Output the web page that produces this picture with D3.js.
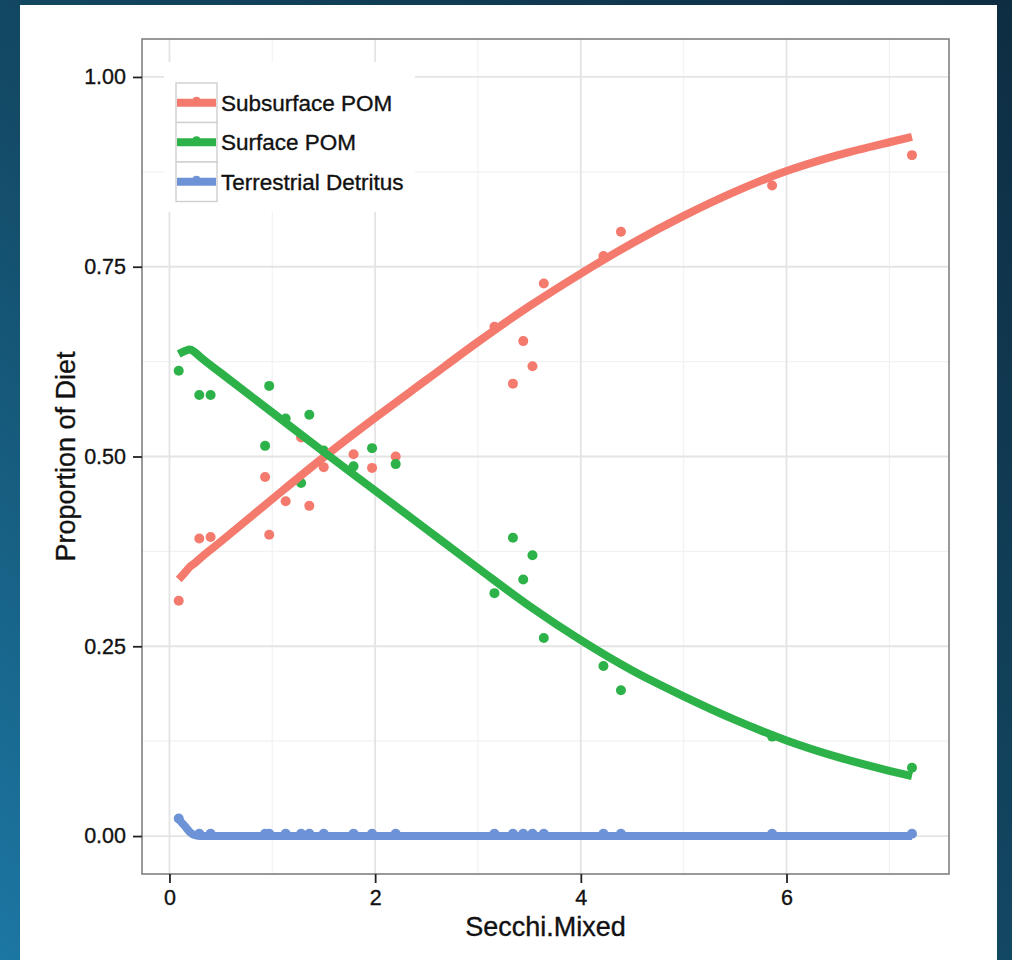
<!DOCTYPE html>
<html>
<head>
<meta charset="utf-8">
<script src="https://cdn.jsdelivr.net/npm/d3@7/dist/d3.min.js"></script>
<style>
  html, body { margin: 0; padding: 0; background: #113a52; }
  svg { display: block; }
  text { font-family: "Liberation Sans", Arial, Helvetica, sans-serif; stroke: #111; stroke-width: 0.35px; }
</style>
</head>
<body>
<svg id="chart" width="1012" height="960"></svg>
<script>
// ---- Data ----
const seriesNames = ["Subsurface POM", "Surface POM", "Terrestrial Detritus"];
const seriesColors = ["#F47A6E", "#2DB24A", "#6D93D6"];

// Observed samples (Secchi.Mixed)
const secchi = [0.09, 0.29, 0.40, 0.93, 0.97, 1.13, 1.28, 1.36, 1.50, 1.79, 1.97, 2.20,
                3.16, 3.34, 3.44, 3.53, 3.64, 4.22, 4.39, 5.86, 7.22];
const subsurfacePOM = [0.310, 0.392, 0.394, 0.473, 0.397, 0.441, 0.525, 0.435, 0.486, 0.503, 0.485, 0.500,
                       0.671, 0.596, 0.652, 0.619, 0.728, 0.764, 0.796, 0.857, 0.897];
const surfacePOM = [0.613, 0.581, 0.581, 0.514, 0.593, 0.550, 0.465, 0.555, 0.508, 0.487, 0.511, 0.490,
                    0.320, 0.393, 0.338, 0.370, 0.261, 0.224, 0.192, 0.131, 0.090];
const terrestrialDetritus = [0.023, 0.003, 0.003, 0.003, 0.003, 0.003, 0.003, 0.003, 0.003, 0.003, 0.003, 0.003,
                             0.003, 0.003, 0.003, 0.003, 0.003, 0.003, 0.003, 0.003, 0.003];

// Fitted curves
const fitX = [0.09, 0.15, 0.2, 0.25, 0.3, 0.5, 1, 1.5, 2, 2.5, 3, 3.5, 4, 4.5, 5, 5.5, 6, 6.5, 7, 7.22];
const fitSubsurface = [0.338, 0.347, 0.355, 0.360, 0.366, 0.388, 0.444, 0.499, 0.551, 0.601, 0.651, 0.698,
                       0.741, 0.781, 0.817, 0.849, 0.876, 0.897, 0.914, 0.921];
const fitSurface = [0.635, 0.639, 0.641, 0.637, 0.631, 0.610, 0.558, 0.506, 0.455, 0.404, 0.353, 0.303,
                    0.258, 0.218, 0.184, 0.153, 0.126, 0.104, 0.086, 0.079];
const fitTerrestrial = [0.022, 0.013, 0.005, 0.001, 0, 0, 0, 0, 0, 0, 0, 0, 0, 0, 0, 0, 0, 0, 0, 0];

const xTicks = [0, 2, 4, 6];
const xMinor = [1, 3, 5, 7];
const yTicks = [0, 0.25, 0.5, 0.75, 1];
const yMinor = [0.125, 0.375, 0.625, 0.875];
const xTitle = "Secchi.Mixed";
const yTitle = "Proportion of Diet";

// ---- Build ----
const obs = [subsurfacePOM, surfacePOM, terrestrialDetritus];
const fits = [fitSubsurface, fitSurface, fitTerrestrial];

const svg = d3.select("#chart");
const defs = svg.append("defs");
const grad = defs.append("linearGradient").attr("id", "bg")
  .attr("x1", "1").attr("y1", "0").attr("x2", "0").attr("y2", "1");
grad.append("stop").attr("offset", "0").attr("stop-color", "#0e2d42");
grad.append("stop").attr("offset", "0.55").attr("stop-color", "#134a66");
grad.append("stop").attr("offset", "1").attr("stop-color", "#1c77a3");
svg.append("rect").attr("width", 1012).attr("height", 960).attr("fill", "url(#bg)");
svg.append("rect").attr("x", 20).attr("y", 5).attr("width", 977).attr("height", 955).attr("fill", "#ffffff");

const P = { left: 142, right: 949, top: 39, bottom: 874 };
const x = d3.scaleLinear().domain([-0.267, 7.58]).range([P.left, P.right]);
const y = d3.scaleLinear().domain([-0.05, 1.05]).range([P.bottom, P.top]);

const grid = svg.append("g");
grid.selectAll(".xmin").data(xMinor).join("line")
  .attr("x1", d => x(d)).attr("x2", d => x(d)).attr("y1", P.top).attr("y2", P.bottom)
  .attr("stroke", "#f2f2f2").attr("stroke-width", 1.2);
grid.selectAll(".ymin").data(yMinor).join("line")
  .attr("y1", d => y(d)).attr("y2", d => y(d)).attr("x1", P.left).attr("x2", P.right)
  .attr("stroke", "#f2f2f2").attr("stroke-width", 1.2);
grid.selectAll(".xmaj").data(xTicks).join("line")
  .attr("x1", d => x(d)).attr("x2", d => x(d)).attr("y1", P.top).attr("y2", P.bottom)
  .attr("stroke", "#e4e4e4").attr("stroke-width", 1.8);
grid.selectAll(".ymaj").data(yTicks).join("line")
  .attr("y1", d => y(d)).attr("y2", d => y(d)).attr("x1", P.left).attr("x2", P.right)
  .attr("stroke", "#e4e4e4").attr("stroke-width", 1.8);

// Points
const plot = svg.append("g");
obs.forEach((vals, i) => {
  plot.append("g").selectAll("circle").data(secchi.map((s, j) => [s, vals[j]])).join("circle")
    .attr("cx", d => x(d[0])).attr("cy", d => y(d[1])).attr("r", 5)
    .attr("fill", seriesColors[i]);
});
// Fitted lines
const line = d3.line().x(d => x(d[0])).y(d => y(d[1])).curve(d3.curveMonotoneX);
fits.forEach((vals, i) => {
  plot.append("path").datum(fitX.map((s, j) => [s, vals[j]]))
    .attr("d", line).attr("fill", "none").attr("stroke", seriesColors[i])
    .attr("stroke-width", 8).attr("stroke-linecap", "butt").attr("stroke-linejoin", "round");
});

// Legend
const lg = svg.append("g");
lg.append("rect").attr("x", 164).attr("y", 62).attr("width", 251).attr("height", 150).attr("fill", "#ffffff");
const keyH = 39.5, keyX = 176, keyW = 41, keyY0 = 83;
seriesNames.forEach((name, i) => {
  const ky = keyY0 + i * keyH;
  lg.append("rect").attr("x", keyX).attr("y", ky).attr("width", keyW).attr("height", keyH)
    .attr("fill", "#ffffff").attr("stroke", "#cfcfcf").attr("stroke-width", 1.4);
  lg.append("circle").attr("cx", keyX + keyW / 2).attr("cy", ky + keyH / 2 - 2).attr("r", 4)
    .attr("fill", seriesColors[i]);
  lg.append("line").attr("x1", keyX + 1).attr("x2", keyX + keyW - 1)
    .attr("y1", ky + keyH / 2).attr("y2", ky + keyH / 2)
    .attr("stroke", seriesColors[i]).attr("stroke-width", 8);
  lg.append("text").attr("x", 221).attr("y", ky + keyH / 2).attr("dy", "0.36em")
    .attr("font-size", 22.5).attr("fill", "#111").text(name);
});

// Panel border
svg.append("rect").attr("x", P.left).attr("y", P.top)
  .attr("width", P.right - P.left).attr("height", P.bottom - P.top)
  .attr("fill", "none").attr("stroke", "#808080").attr("stroke-width", 1.6);

// Axes
const xAxis = svg.append("g").attr("transform", `translate(0,${P.bottom})`)
  .call(d3.axisBottom(x).tickValues(xTicks).tickFormat(d3.format("d")).tickSize(9).tickPadding(7));
const yAxis = svg.append("g").attr("transform", `translate(${P.left},0)`)
  .call(d3.axisLeft(y).tickValues(yTicks).tickFormat(d3.format(".2f")).tickSize(9).tickPadding(7));
[xAxis, yAxis].forEach(a => {
  a.select(".domain").remove();
  a.selectAll(".tick line").attr("stroke", "#222").attr("stroke-width", 1.8);
  a.selectAll(".tick text").attr("font-size", 21.5).attr("fill", "#111")
    .attr("font-family", "'Liberation Sans', Arial, Helvetica, sans-serif");
});

// Axis titles
svg.append("text").attr("x", (P.left + P.right) / 2).attr("y", 936)
  .attr("text-anchor", "middle").attr("font-size", 27).attr("fill", "#111").text(xTitle);
svg.append("text").attr("transform", `translate(75,${(P.top + P.bottom) / 2}) rotate(-90)`)
  .attr("text-anchor", "middle").attr("font-size", 27).attr("fill", "#111").text(yTitle);
</script>
</body>
</html>
